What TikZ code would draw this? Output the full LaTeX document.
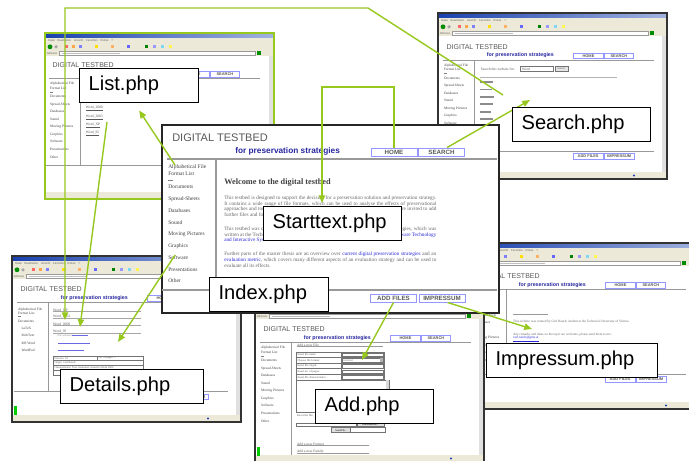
\documentclass[tikz,border=0pt]{standalone}
\usepackage{fontspec}
\setmainfont{Liberation Serif}
\setsansfont{Liberation Sans}
\usetikzlibrary{arrows.meta}

\definecolor{linkgreen}{RGB}{150,200,30}
\definecolor{xpblue}{RGB}{25,65,175}
\definecolor{chrome}{RGB}{236,233,216}
\definecolor{btnblue}{RGB}{150,150,255}
\definecolor{subblue}{RGB}{40,40,160}
\definecolor{weblink}{RGB}{40,40,215}

\newcommand{\wlink}[1]{\textcolor{weblink}{#1}}

\tikzset{
  winframe/.style={draw=black!85, line width=0.9pt, fill=white},
  menutext/.style={anchor=west, inner sep=0, text=black!60, font=\sffamily\fontsize{2}{2}\selectfont},
  tbhead/.style={anchor=west, inner sep=0, text=black!65, font=\sffamily\fontsize{7.8}{8}\selectfont},
  tbsub/.style={anchor=west, inner sep=0, text=subblue, font=\sffamily\bfseries\fontsize{5.9}{6}\selectfont},
  navbtn/.style={draw=btnblue, line width=0.7pt, fill=white, inner sep=0, minimum width=1.15cm, minimum height=0.2cm, text=black!65, font=\sffamily\bfseries\fontsize{4.4}{5}\selectfont},
  tbrule/.style={draw=black!40, line width=1.4pt},
  tbside/.style={anchor=west, inner sep=0, text=black!75, font=\fontsize{3.9}{4.5}\selectfont},
  tbitem/.style={anchor=west, inner sep=0, text=black!65, font=\fontsize{4}{5}\selectfont},
  tbtext/.style={anchor=north west, inner sep=0, text=black!60, align=justify, font=\fontsize{3.7}{4.12}\selectfont},
  thinline/.style={draw=black!55, line width=0.3pt},
  thumb/.style={scale=0.64, transform shape, tbrule/.append style={line width=0.7pt}, navbtn/.append style={line width=0.45pt}},
  pagelbl/.style={draw=black, line width=0.9pt, fill=white, anchor=north west, inner xsep=0.225cm, inner ysep=0, minimum height=0.85cm, align=left, font=\sffamily\fontsize{14.3}{16}\selectfont},
  pagearrow/.style={draw=linkgreen, line width=1pt, -{Triangle[length=5.5pt, width=4.5pt]}},
}

% sidebars of the testbed pages (y/text)
\newcommand{\tbmenu}{42.3/Alphabetical File, 48.3/Format List, 62/Documents, 73.7/Spread-Sheets, 85.3/Databases, 97.3/Sound, 109/Moving Pictures, 120.7/Graphics, 132.3/Software, 144.3/Presentations, 156/Other}
\newcommand{\tbmenudoc}{45.3/Alphabetical File, 50.5/Format List, 62.5/Documents, 74/\quad LaTeX, 85.4/\quad RichText, 97.4/\quad MS Word, 107.8/\quad WordPad}

% head of a testbed page: #1 name prefix, #2 sidebar list
\newcommand{\tbpage}[2]{%
  \node[tbhead] (#1title) at (10,12.7) {DIGITAL TESTBED};
  \node[tbsub] at (73,26.7) {for preservation strategies};
  \node[navbtn] (#1home) at (232,27) {HOME};
  \node[navbtn] (#1search) at (279.5,27) {SEARCH};
  \draw[tbrule] (5,34) -- (335,34);
  \foreach \y/\t in #2
    \node[tbside] at (6,\y) {\t};
  \draw[black!50, line width=0.3pt] (6,55) -- (11,55);
}

% foot of a testbed page: #1 name prefix, #2 y of the bottom rule
\newcommand{\tbfoot}[2]{%
  \draw[tbrule] (54,34) -- (54,#2);
  \draw[tbrule] (0,#2) -- (335,#2);
  \node[navbtn] (#1add) at (231.5,#2+8) {ADD FILES};
  \node[navbtn] (#1imp) at (280,#2+8) {IMPRESSUM};
}

% browser window at (#2,#3)
\newcommand{\tbwin}[3][draw=black!80]{%
  \begin{scope}[shift={(#2,#3)}]
    \fill[white] (0,0) rectangle (229,166);
    \shade[left color=xpblue, right color=xpblue!40] (0,0) rectangle (229,5);
    \fill[chrome] (0,5) rectangle (229,23);
    \node[menutext] at (3,7.7) {Datei\quad Bearbeiten\quad Ansicht\quad Favoriten\quad Extras\quad ?};
    \fill[green!55!black] (5,13.8) circle (2.4);
    \fill[black!35] (11,13.8) circle (1.8);
    \foreach \x/\c in {20/red!60, 27/orange!70, 34/blue!50, 50/yellow!80!orange, 66/orange!60, 82/blue!60, 100/green!50!black, 108/blue!40, 116/cyan!50, 124/yellow!70}
      \fill[\c] (\x,12.3) rectangle ++(3,3);
    \node[menutext] at (1.5,20) {Adresse};
    \draw[black!40, fill=white, line width=0.3pt] (14,18.2) rectangle (210,21.8);
    \fill[black!25] (17,19.5) rectangle (75,20.5);
    \fill[green!55!black] (212,18.2) rectangle (215.5,21.8);
    \fill[black!12] (224,23) rectangle (229,159);
    \fill[chrome] (0,159) rectangle (229,166);
    \fill[xpblue] (196,162.5) circle (1.2);
    \draw[line width=1pt, #1] (0,0) rectangle (229,166);
  \end{scope}
}

\begin{document}
\begin{tikzpicture}[x=0.025cm, y=-0.025cm]
\useasboundingbox (0,0) rectangle (689,460);
\fill[white] (0,0) rectangle (689,460);

% List.php
\tbwin[draw=linkgreen, line width=1.6pt]{45}{33}
\begin{scope}[shift={(46,57)}, thumb]
  \tbpage{lst}{\tbmenu}
  \tbfoot{lst}{170}
  \foreach \y/\t in {80.8/Word\_2000, 93.7/Word\_2003, 106.7/Word\_XP, 119/Word\_95}
    \node[tbitem] at (62,\y) {\underline{\t}};
\end{scope}

% Search.php
\tbwin{438}{13}
\begin{scope}[shift={(440,38.5)}, thumb]
  \tbpage{srch}{\tbmenu}
  \tbfoot{srch}{176}
  \node[tbitem] at (63.6,47.5) {Search this website for:};
  \draw[thinline, fill=white] (125,44) rectangle (177,51);
  \node[tbitem] at (128,47.5) {Word};
  \draw[thinline, fill=black!10] (180,44) rectangle (200,51);
  \node[tbitem, font=\fontsize{3}{3}\selectfont] at (183,47.5) {Search};
  \draw[black!30, line width=0.3pt] (63,60) -- (276,60);
  \foreach \y/\w in {68/20, 79.4/18, 91/22, 102.4/20, 114.5/16, 126/20, 137/18, 163/24}
    \fill[black!45] (63,\y-1.2) rectangle ++(\w,2.4);
\end{scope}

% Details.php
\tbwin{12}{256}
\fill[green!80!black] (14,406) rectangle (16.5,415);
\begin{scope}[shift={(14,281)}, thumb]
  \tbpage{det}{\tbmenudoc}
  \tbfoot{det}{173}
  \foreach \y/\t in {45.3/Word\_XP, 55.8/Word\_2003, 67.2/Word\_2000, 78.6/Word\_95} {
    \node[tbitem] at (61,\y) {\t};
    \draw[black!35, line width=0.3pt] (61,\y+2.5) -- (198,\y+2.5);
  }
  \node[tbitem, text=black!50, font=\fontsize{3}{3}\selectfont] at (68,85.5) {File website is:};
  \fill[weblink!70] (90,84.7) rectangle ++(25,1.6);
  \fill[weblink!70] (68.7,96.5) rectangle ++(50,2);
  \fill[weblink!70] (68.7,108) rectangle ++(40,2);
  \draw[thinline] (61,117) rectangle (201.5,147);
  \draw[thinline] (61,124.5) -- (201.5,124.5) (61,132) -- (201.5,132) (61,139.5) -- (201.5,139.5) (130,117) -- (130,124.5);
  \node[tbitem, font=\fontsize{3}{3}\selectfont] at (63,120.8) {File size: 93};
  \node[tbitem, font=\fontsize{3}{3}\selectfont] at (132,120.8) {No. of pages: 1};
  \node[tbitem, font=\fontsize{3}{3}\selectfont] at (63,128.3) {Origin: Carl Rauch};
  \node[tbitem, font=\fontsize{3}{3}\selectfont] at (63,135.8) {Characteristics: Text, formatted, created in Word 2000};
\end{scope}

% Impressum.php
\tbwin{470}{243}
\begin{scope}[shift={(472,268)}, thumb]
  \tbpage{imp}{\tbmenu}
  \tbfoot{imp}{166}
  \draw[black!40, line width=0.3pt] (64,72) -- (119,72);
  \node[tbtext, text width=4.83cm] at (64,80.5) {This website was created by Carl Rauch, student at the Technical University of Vienna.};
  \node[tbtext, text width=4.83cm] at (64,101) {Any remarks and ideas on the topic are welcome, please send them to me:\\ \wlink{\underline{carl.rauch@gmx.at}}};
\end{scope}

% Add.php
\tbwin{255}{296}
\fill[green!80!black] (257,447) rectangle (259.5,456);
\begin{scope}[shift={(257,321)}, thumb]
  \tbpage{add}{\tbmenu}
  \draw[tbrule] (54,34) -- (54,210);
  \node[tbitem] at (62,37.3) {Add a new File};
  \draw[black!40, line width=0.3pt] (62,39.8) -- (197,39.8);
  \draw[thinline] (60.5,48) rectangle (198.4,92.2) (131.6,48) -- (131.6,92.2);
  \foreach \i/\t in {0/Insert file name:, 1/Choose file format:, 2/Insert file origin:, 3/Insert no. of pages:, 4/Insert file characteristics:} {
    \draw[thinline] (60.5,48+\i*8.84) -- (198.4,48+\i*8.84);
    \node[tbitem, font=\fontsize{3.2}{3.5}\selectfont] at (63,52.4+\i*8.84) {\t};
    \draw[thinline, fill=white] (133,49.6+\i*8.84) rectangle (197,55.4+\i*8.84);
  }
  \node[tbitem, font=\fontsize{3}{3}\selectfont] at (135,61.2) {text/xml};
  \fill[black!30] (192,58.4) rectangle (197,64.2);
  \draw[thinline] (60.5,92.2) rectangle (206,143);
  \fill[black!15] (201,92.4) rectangle (205.8,142.8);
  \node[tbitem, font=\fontsize{3.2}{3.5}\selectfont] at (62,147) {Select the file:};
  \draw[thinline, fill=white] (60.5,159) rectangle (154.5,165);
  \draw[thinline, fill=black!12] (156,158.9) rectangle (198.6,165);
  \node[font=\fontsize{3}{3}\selectfont, inner sep=0] at (177.3,162) {Durchsuchen...};
  \draw[thinline, fill=black!12] (116,166.7) rectangle (145,174.5);
  \node[font=\fontsize{3}{3}\selectfont, inner sep=0] at (130.5,170.6) {Send File};
  \draw[thinline, fill=white] (145,166.7) rectangle (200,174.5);
  \node[tbitem] at (62,192) {Add a new Format};
  \draw[black!40, line width=0.3pt] (62,194.5) -- (175,194.5);
  \node[tbitem] at (62,204) {Add a new Family};
  \draw[black!40, line width=0.3pt] (62,206.5) -- (175,206.5);
\end{scope}

% Index.php
\draw[winframe] (162,125) rectangle (499,313);
\begin{scope}[shift={(162,125)}]
  \tbpage{idx}{\tbmenu}
  \tbfoot{idx}{165}
  \node[anchor=west, inner sep=0, text=black!75, font=\bfseries\fontsize{5.9}{6}\selectfont] at (62,58) {Welcome to the digital testbed};
  \node[tbtext, text width=5.3cm] (idxp1) at (62,70.4) {This testbed is designed to support the decision for a preservation solution and preservation strategy. It contains a wide range of file formats, which can be used to analyse the effects of preservational approaches and tools on the stored files. Researchers, archivists and all other users are invited to add further files and formats to the testbed.};
  \node[tbtext, text width=5.3cm] (idxp2) at (62,101.3) {This testbed was created as a part of a master thesis about digital preservation strategies, which was written at the Technical University of Vienna at the department of the \wlink{Institut for Software Technology and Interactive Systems}.};
  \node[tbtext, text width=5.3cm] (idxp3) at (62,126.9) {Further parts of the master thesis are an overview over \wlink{current digital preservation strategies} and an \wlink{evaluation metric}, which covers many different aspects of an evaluation strategy and can be used to evaluate all its effects.};
\end{scope}

% link ends
\coordinate (alphaout) at (175,165);
\coordinate (softout) at (175,255);
\coordinate (wordout) at (107,122);
\coordinate (resultout) at (503,95);
\coordinate (topbend) at (368,8);
\coordinate (stbend) at (322,87);
\coordinate (stin) at (322,203);
\coordinate (srchin) at (530,100);
\coordinate (detin1) at (65,320);
\coordinate (detin2) at (80,327);
\coordinate (detin3) at (118,342);
\coordinate (addin) at (362,360);
\coordinate (impin) at (532,329);

\node[pagelbl, text width=2.525cm] (listlbl) at (79,68) {List.php};

\draw[pagearrow] (alphaout) -- ([yshift=-0.18cm]listlbl.south);
\draw[pagearrow] (wordout) -- (detin2);
\draw[pagearrow] (resultout) -- (topbend) -| (detin1);
\draw[pagearrow] (idxhome.north) |- (stbend) -- (stin);
\draw[pagearrow] ([xshift=0.14cm]idxsearch.north) -- (srchin);
\draw[pagearrow] (softout) -- (detin3);
\draw[pagearrow] (idxadd.south) -- (addin);
\draw[pagearrow] ([xshift=0.14cm]idximp.south) -- (impin);

\node[pagelbl, text width=3cm] (searchlbl) at (512,107) {Search.php};
\node[pagelbl, text width=3cm] (startlbl) at (263,206) {Starttext.php};
\node[pagelbl, text width=2.525cm] (indexlbl) at (209,277) {Index.php};
\node[pagelbl, text width=3.125cm] (detailslbl) at (60,369) {Details.php};
\node[pagelbl, text width=2.5cm] (addlbl) at (315,389) {Add.php};
\node[pagelbl, text width=3.825cm] (implbl) at (486,343) {Impressum.php};
\end{tikzpicture}
\end{document}
